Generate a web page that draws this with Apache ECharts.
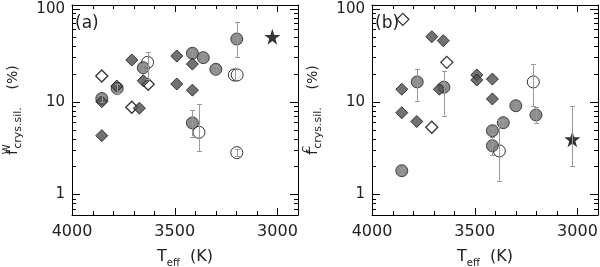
<!DOCTYPE html>
<html><head><meta charset="utf-8">
<script src="https://cdn.jsdelivr.net/npm/echarts@6/dist/echarts.min.js"></script>
<style>html,body{margin:0;padding:0;background:#fff}#c{width:600px;height:267px}</style>
</head><body><div id="c"></div>
<script>
// ---- tick values ----
const xMajorTicks = [4000, 3500, 3000];
const xMinorTicks = [3900, 3800, 3700, 3600, 3400, 3300, 3200, 3100, 2900];
const yMajorTicks = [1, 10, 100];
const yMinorTicks = [0.7, 0.8, 0.9, 2, 3, 4, 5, 6, 7, 8, 9, 20, 30, 40, 50, 60, 70, 80, 90];

// ---- panel (a): warm crystalline fraction ----
const aDiamondFilled = [[3855, 4.3], [3855, 10.0], [3782, 14.7], [3709, 28.1], [3653, 16.8], [3672, 8.5], [3490, 31.0], [3490, 15.5], [3414, 25.4], [3414, 13.3]];
const aDiamondOpen = [[3855, 18.9], [3709, 8.7], [3629, 15.4]];
const aCircleFilled = [[3855, 10.8], [3780, 13.9], [3653, 23.2], [3414, 33.2], [3361, 29.8], [3300, 22.3], [3198, 47.3], [3414, 5.9]];
const aCircleOpen = [[3632, 26.5], [3382, 4.67], [3210, 19.4], [3196, 19.4], [3198, 2.82]];
const aStar = [[3025, 50]];
const aErrors = [[3632, 17.5, 34], [3198, 30, 72.7], [3414, 4.2, 8.1], [3382, 2.94, 9.4], [3205, 16.5, 23.3],
  [3198, 2.6, 3.1], [3855, 9.9, 11.8], [3780, 12.4, 15.4], [3653, 21, 25.5], [3414, 30.5, 36], [3361, 27.5, 32.5], [3300, 20.5, 24]];

// ---- panel (b): cold crystalline fraction ----
const bDiamondFilled = [[3709, 50.1], [3653, 45.4], [3855, 13.6], [3855, 7.6], [3782, 6.1], [3672, 13.6], [3490, 19.4], [3490, 17.1], [3414, 17.5], [3414, 10.7]];
const bDiamondOpen = [[3850, 77], [3636, 26.5], [3709, 5.3]];
const bCircleFilled = [[3855, 1.8], [3780, 16.3], [3650, 14.3], [3414, 4.86], [3414, 3.35], [3361, 5.93], [3300, 9.04], [3202, 7.18]];
const bCircleOpen = [[3380, 2.94], [3215, 16.3]];
const bStar = [[3025, 3.93]];
const bErrors = [[3780, 10.2, 22.3], [3650, 7.05, 21.4], [3414, 2.66, 4.2], [3380, 1.4, 6.3], [3202, 5.9, 8.7], [3215, 8.97, 25.3], [3025, 2.02, 8.9],
  [3855, 1.65, 1.95], [3414, 4.5, 5.2], [3361, 5.5, 6.4], [3300, 8.4, 9.7]];

const FONT = 'DejaVu Sans';
const STAR = 'path://M50,0 L61.8,35.1 L98.9,35.1 L68.9,56.7 L79.4,91.9 L50,70.2 L20.6,91.9 L31.1,56.7 L1.1,35.1 L38.2,35.1 Z';
const X_MIN = 2900, X_MAX = 4000, Y_MIN = 0.6, Y_MAX = 110;

const gridRect = (left) => ({left: left, top: 5, width: 226, height: 210, outerBoundsMode: 'none', containLabel: false});

function xAx(gridIndex, position, withLabels) {
  return {
    type: 'value', gridIndex, position, min: X_MIN, max: X_MAX, inverse: true,
    axisLine: {show: true, onZero: false, lineStyle: {color: '#000', width: 1}},
    axisTick: {show: false},
    axisLabel: {show: withLabels, customValues: xMajorTicks, margin: 9, fontSize: 16, fontFamily: FONT, color: '#222', formatter: (v) => String(v)},
    splitLine: {show: false},
    name: withLabels ? '{t|T}{s|eff}{t|  (K)}' : '',
    nameLocation: 'middle', nameGap: 31,
    nameTextStyle: {rich: {
      t: {fontSize: 16, fontFamily: FONT, color: '#222', lineHeight: 22, verticalAlign: 'middle'},
      s: {fontSize: 10, fontFamily: FONT, color: '#222', lineHeight: 10, verticalAlign: 'bottom'}
    }}
  };
}
function yAx(gridIndex, position, withLabels, sup) {
  return {
    type: 'log', logBase: 10, gridIndex, position, min: Y_MIN, max: Y_MAX,
    axisLine: {show: true, onZero: false, lineStyle: {color: '#000', width: 1}},
    axisTick: {show: false},
    axisLabel: {show: withLabels, customValues: yMajorTicks, margin: 7, fontSize: 15, fontFamily: FONT, color: '#222', formatter: (v) => String(v)},
    splitLine: {show: false},
    name: withLabels ? '{f|f}{p|' + sup + '}{s|crys.sil.}{f|    (%)}' : '',
    nameLocation: 'middle', nameRotate: 90, nameGap: 48,
    nameTextStyle: {rich: {
      f: {fontSize: 14, fontFamily: FONT, color: '#222', lineHeight: 22, verticalAlign: 'middle'},
      p: {fontSize: 10, fontFamily: FONT, color: '#222', lineHeight: 10, verticalAlign: 'top', width: 1, align: 'left'},
      s: {fontSize: 11, fontFamily: FONT, color: '#222', lineHeight: 11, verticalAlign: 'bottom', align: 'left'}
    }}
  };
}

function line(x1, y1, x2, y2, stroke) {
  return {type: 'line', shape: {x1, y1, x2, y2}, style: {stroke, lineWidth: 1, fill: null}};
}

function errRender(params, api) {
  const x = api.value(0), lo = api.value(1), hi = api.value(2);
  const p1 = api.coord([x, lo]), p2 = api.coord([x, hi]);
  const px = Math.round(p1[0]) + 0.5;
  const cap = 2.5, c = '#9a9a9a';
  const y1 = Math.round(p1[1]) + 0.5, y2 = Math.round(p2[1]) + 0.5;
  return {type: 'group', children: [line(px, p1[1], px, p2[1], c), line(px - cap, y1, px + cap, y1, c), line(px - cap, y2, px + cap, y2, c)]};
}

// ticks on all four sides, placed through the axes' own scales
function xTickRender(len) {
  return function (params, api) {
    const v = api.value(0);
    const b = api.coord([v, Y_MIN]), t = api.coord([v, Y_MAX]);
    const x = Math.round(b[0]) + 0.5;
    return {type: 'group', children: [line(x, b[1], x, b[1] - len, '#000'), line(x, t[1], x, t[1] + len, '#000')]};
  };
}
function yTickRender(len) {
  return function (params, api) {
    const v = api.value(1);
    const l = api.coord([X_MAX, v]), r = api.coord([X_MIN, v]);
    const y = Math.round(l[1]) + 0.5;
    return {type: 'group', children: [line(l[0], y, l[0] + len, y, '#000'), line(r[0], y, r[0] - len, y, '#000')]};
  };
}

function panelSeries(ax, dF, dO, cF, cO, star, errs) {
  const base = {type: 'scatter', xAxisIndex: ax, yAxisIndex: ax, silent: true, animation: false};
  const cust = (data, render, z) => ({type: 'custom', xAxisIndex: ax, yAxisIndex: ax, data, renderItem: render, encode: {x: 0, y: 1}, z, silent: true, animation: false, clip: false});
  return [
    cust(xMajorTicks.map(v => [v, 1]), xTickRender(7), 1),
    cust(xMinorTicks.map(v => [v, 1]), xTickRender(4), 1),
    cust(yMajorTicks.map(v => [3500, v]), yTickRender(8), 1),
    cust(yMinorTicks.map(v => [3500, v]), yTickRender(4), 1),
    Object.assign({}, base, {data: cO, symbol: 'circle', symbolSize: 12, z: 2, itemStyle: {color: '#fff', borderColor: '#000', borderWidth: 1}}),
    Object.assign({}, base, {data: cF, symbol: 'circle', symbolSize: 12, z: 3, itemStyle: {color: '#727272', borderColor: '#222', borderWidth: 1}}),
    Object.assign({}, base, {data: dO, symbol: 'diamond', symbolSize: 12, z: 4, itemStyle: {color: '#fff', borderColor: '#000', borderWidth: 1.3}}),
    Object.assign({}, base, {data: dF, symbol: 'diamond', symbolSize: 12, z: 5, itemStyle: {color: '#4f4f4f', borderColor: '#111', borderWidth: 1}}),
    Object.assign({}, base, {data: star, symbol: STAR, symbolSize: 16, z: 6, itemStyle: {color: '#000'}}),
    {type: 'custom', xAxisIndex: ax, yAxisIndex: ax, data: errs, renderItem: errRender, encode: {x: 0, y: [1, 2]}, z: 7, silent: true, animation: false, clip: false}
  ];
}

const chart = echarts.init(document.getElementById('c'), null, {renderer: 'canvas'});
chart.setOption({
  backgroundColor: '#fff',
  animation: false,
  grid: [gridRect(72), gridRect(372)],
  xAxis: [xAx(0, 'bottom', true), xAx(0, 'top', false), xAx(1, 'bottom', true), xAx(1, 'top', false)],
  yAxis: [yAx(0, 'left', true, 'W'), yAx(0, 'right', false), yAx(1, 'left', true, 'C'), yAx(1, 'right', false)],
  graphic: [
    {type: 'text', left: 75, top: 15, style: {text: '(a)', fontSize: 17, fontFamily: FONT, fill: '#222'}},
    {type: 'text', left: 375, top: 15, style: {text: '(b)', fontSize: 17, fontFamily: FONT, fill: '#222'}}
  ],
  series: [].concat(
    panelSeries(0, aDiamondFilled, aDiamondOpen, aCircleFilled, aCircleOpen, aStar, aErrors),
    panelSeries(2, bDiamondFilled, bDiamondOpen, bCircleFilled, bCircleOpen, bStar, bErrors)
  )
});
</script></body></html>
